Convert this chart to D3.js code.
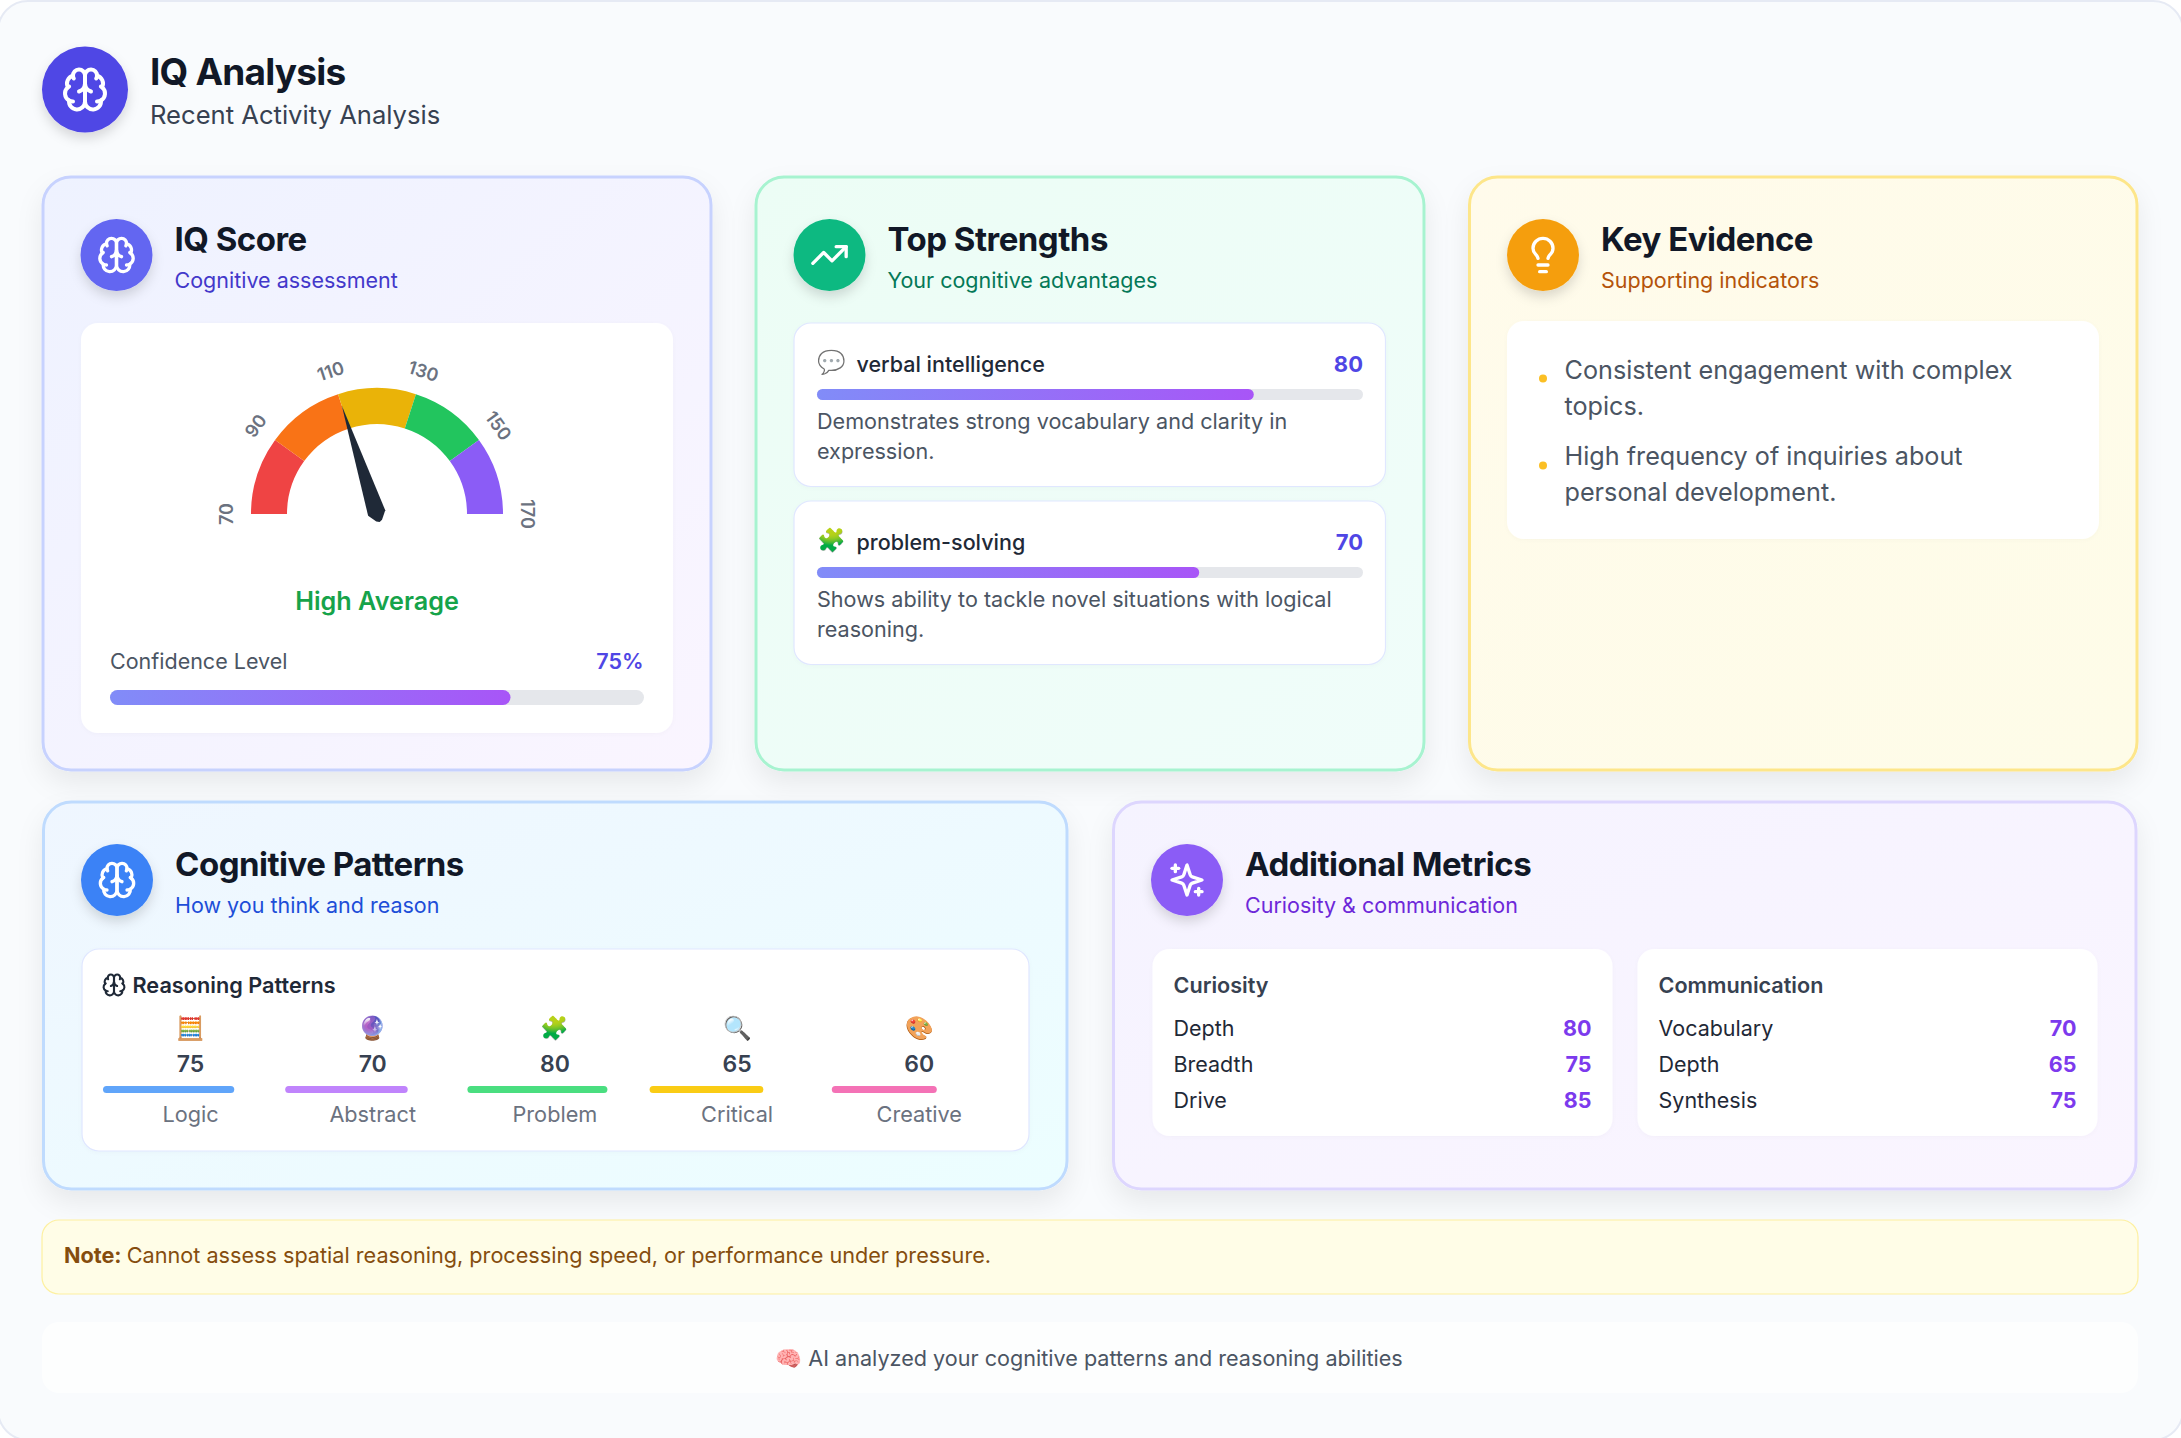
<!DOCTYPE html>
<html>
<head>
<meta charset="utf-8">
<script src="https://cdn.jsdelivr.net/npm/d3@7"></script>
<style>
html, body { margin: 0; padding: 0; background: #fff; }
svg { display: block; }
text { font-family: Inter, 'Noto Sans', sans-serif; }
</style>
</head>
<body>
<div id="container"></div>
<script>
// data
const iqScore = 110;
const iqBand = 'High Average';
const confidence = 75;
const gaugeTicks = [70, 90, 110, 130, 150, 170];
const gaugeColors = ['#ef4444', '#f97316', '#eab308', '#22c55e', '#8b5cf6'];

const strengthNames = ['verbal intelligence', 'problem-solving'];
const strengthEmoji = ['💬', '🧩'];
const strengthValues = [80, 70];
const strengthDesc = [
    ['Demonstrates strong vocabulary and clarity in', 'expression.'],
    ['Shows ability to tackle novel situations with logical', 'reasoning.']
];

const evidence = [
    ['Consistent engagement with complex', 'topics.'],
    ['High frequency of inquiries about', 'personal development.']
];

const patternNames = ['Logic', 'Abstract', 'Problem', 'Critical', 'Creative'];
const patternEmoji = ['🧮', '🔮', '🧩', '🔍', '🎨'];
const patternValues = [75, 70, 80, 65, 60];
const patternColors = ['#60a5fa', '#c084fc', '#4ade80', '#facc15', '#f472b6'];

const curiosityNames = ['Depth', 'Breadth', 'Drive'];
const curiosityValues = [80, 75, 85];
const commNames = ['Vocabulary', 'Depth', 'Synthesis'];
const commValues = [70, 65, 75];

const icons = {
    brain: ['M12 5a3 3 0 1 0-5.997.125 4 4 0 0 0-2.526 5.77 4 4 0 0 0 .556 6.588A4 4 0 1 0 12 18Z',
        'M12 5a3 3 0 1 1 5.997.125 4 4 0 0 1 2.526 5.77 4 4 0 0 1-.556 6.588A4 4 0 1 1 12 18Z',
        'M15 13a4.5 4.5 0 0 1-3-4 4.5 4.5 0 0 1-3 4',
        'M17.599 6.5a3 3 0 0 0 .399-1.375', 'M6.003 5.125A3 3 0 0 0 6.401 6.5',
        'M3.477 10.896a4 4 0 0 1 .585-.396', 'M19.938 10.5a4 4 0 0 1 .585.396',
        'M6 18a4 4 0 0 1-1.967-.516', 'M19.967 17.484A4 4 0 0 1 18 18'],
    trend: ['M22 7L13.5 15.5L8.5 10.5L2 17', 'M16 7H22V13'],
    bulb: ['M15 14c.2-1 .7-1.7 1.5-2.5 1-.9 1.5-2.2 1.5-3.5A6 6 0 0 0 6 8c0 1 .2 2.2 1.5 3.5.7.7 1.3 1.5 1.5 2.5', 'M9 18h6', 'M10 22h4'],
    sparkles: ['m12 3-1.912 5.813a2 2 0 0 1-1.275 1.275L3 12l5.813 1.912a2 2 0 0 1 1.275 1.275L12 21l1.912-5.813a2 2 0 0 1 1.275-1.275L21 12l-5.813-1.912a2 2 0 0 1-1.275-1.275L12 3Z',
        'M5 3v4', 'M19 17v4', 'M3 5h4', 'M17 19h4']
};

const W = 2181, H = 1438;
const svg = d3.select('#container').append('svg').attr('width', W).attr('height', H);
const defs = svg.append('defs');

const addGradient = (id, from, to, diagonal) => {
    const g = defs.append('linearGradient').attr('id', id)
        .attr('x1', 0).attr('y1', 0).attr('x2', 1).attr('y2', diagonal ? 1 : 0);
    g.append('stop').attr('offset', 0).attr('stop-color', from);
    g.append('stop').attr('offset', 1).attr('stop-color', to);
};
addGradient('bar', '#818cf8', '#a855f7');
addGradient('c1', '#eef2ff', '#faf5ff', true);
addGradient('c2', '#ecfdf5', '#f0fdfa', true);
addGradient('c3', '#fffbeb', '#fefce8', true);
addGradient('c4', '#eff6ff', '#ecfeff', true);
addGradient('c5', '#f5f3ff', '#faf5ff', true);

const shadow = (id, dy, blur, op) => defs.append('filter').attr('id', id)
    .attr('x', '-20%').attr('y', '-20%').attr('width', '140%').attr('height', '150%')
    .append('feDropShadow').attr('dx', 0).attr('dy', dy).attr('stdDeviation', blur)
    .attr('flood-color', '#000').attr('flood-opacity', op);
shadow('cardShadow', 12, 13, 0.07);
shadow('iconShadow', 6, 6, 0.14);
shadow('softShadow', 1, 2, 0.025);

const text = (parent, x, y, str, size, color, weight, anchor) => parent.append('text')
    .attr('x', x).attr('y', y).attr('font-size', size).attr('fill', color)
    .attr('font-weight', weight || 400).attr('text-anchor', anchor || 'start').text(str);

const drawIcon = (parent, name, cx, cy, size, color) => {
    const g = parent.append('g')
        .attr('transform', `translate(${cx - size / 2},${cy - size / 2}) scale(${size / 24})`)
        .attr('fill', 'none').attr('stroke', color).attr('stroke-width', 2)
        .attr('stroke-linecap', 'round').attr('stroke-linejoin', 'round');
    g.selectAll('path').data(icons[name]).enter().append('path').attr('d', d => d);
};

const box = (parent, x, y, w, h, border) => parent.append('rect')
    .attr('x', x).attr('y', y).attr('width', w).attr('height', h).attr('rx', 17)
    .attr('fill', '#fff').attr('stroke', border || 'none').attr('stroke-width', border ? 1.2 : 0)
    .attr('filter', 'url(#softShadow)');

// page panel
svg.append('rect').attr('x', -2).attr('y', 1).attr('width', W + 4).attr('height', H + 1).attr('rx', 30)
    .attr('fill', '#f9fbfd').attr('stroke', '#e6eaf4').attr('stroke-width', 2);

svg.append('circle').attr('cx', 85).attr('cy', 89.5).attr('r', 43).attr('fill', '#4f46e5').attr('filter', 'url(#iconShadow)');
drawIcon(svg, 'brain', 85, 89.5, 48, '#fff');
text(svg, 150, 85, 'IQ Analysis', 37, '#111827', 700).attr('letter-spacing', -0.8);
text(svg, 150, 124, 'Recent Activity Analysis', 25.6, '#374151', 400);

const card = (x, y, w, h, fill, border, iconColor, icon, title, sub, subColor) => {
    const g = svg.append('g');
    g.append('rect').attr('x', x).attr('y', y).attr('width', w).attr('height', h).attr('rx', 28)
        .attr('fill', `url(#${fill})`).attr('stroke', border).attr('stroke-width', 3).attr('filter', 'url(#cardShadow)');
    const cx = x + 73.5, cy = y + 78;
    g.append('circle').attr('cx', cx).attr('cy', cy).attr('r', 36).attr('fill', iconColor).attr('filter', 'url(#iconShadow)');
    drawIcon(g, icon, cx, cy, 40, '#fff');
    text(g, x + 131.5, y + 74, title, 33, '#111827', 700).attr('letter-spacing', -0.5);
    text(g, x + 131.5, y + 110.5, sub, 21.5, subColor, 400);
    return g;
};

const progress = (parent, x, y, w, h, value) => {
    const scale = d3.scaleLinear().domain([0, 100]).range([0, w]);
    parent.append('rect').attr('x', x).attr('y', y).attr('width', w).attr('height', h).attr('rx', h / 2).attr('fill', '#e5e7eb');
    parent.append('rect').attr('x', x).attr('y', y).attr('width', scale(value)).attr('height', h).attr('rx', h / 2).attr('fill', 'url(#bar)');
};

// IQ score card
const c1 = card(43, 177, 668, 593, 'c1', '#c7d2fe', '#6366f1', 'brain', 'IQ Score', 'Cognitive assessment', '#4338ca');
box(c1, 81, 323, 592, 410);

const gaugeX = 377, gaugeY = 514, outerR = 126, innerR = 90;
const angle = d3.scaleLinear().domain(d3.extent(gaugeTicks)).range([-90, 90]);
const gauge = c1.append('g').attr('transform', `translate(${gaugeX},${gaugeY})`);
const arc = d3.arc().innerRadius(innerR).outerRadius(outerR);
gauge.selectAll('.seg').data(gaugeColors).enter().append('path')
    .attr('d', (d, i) => arc({
        startAngle: angle(gaugeTicks[i]) * Math.PI / 180,
        endAngle: angle(gaugeTicks[i + 1]) * Math.PI / 180
    }))
    .attr('fill', d => d);
gauge.selectAll('.tick').data(gaugeTicks).enter().append('text')
    .attr('transform', d => `rotate(${angle(d)}) translate(0,-150)`)
    .attr('text-anchor', 'middle').attr('dy', '0.35em')
    .attr('font-size', 18).attr('font-weight', 600).attr('fill', '#6b7280')
    .text(d => d);
gauge.append('path')
    .attr('d', 'M0 -114L9 -1L3 7L0 8.5L-3 7L-9 -1Z')
    .attr('transform', `rotate(${angle(iqScore)})`)
    .attr('fill', '#1f2937');

text(c1, 377, 609.5, iqBand, 25.2, '#16a34a', 600, 'middle');
text(c1, 110, 669, 'Confidence Level', 21.5, '#4b5563', 400);
text(c1, 643.5, 669, confidence + '%', 21.5, '#4f46e5', 600, 'end');
progress(c1, 110, 690, 534, 15, confidence);

// top strengths card
const c2 = card(756, 177, 668, 593, 'c2', '#a7f3d0', '#10b981', 'trend', 'Top Strengths', 'Your cognitive advantages', '#047857');
strengthNames.forEach((name, i) => {
    const y0 = 323 + i * 178;
    box(c2, 794, y0, 591.5, 163.5, '#e0e7ff');
    text(c2, 817, y0 + 47, strengthEmoji[i], 23, '#000').attr('opacity', i === 0 ? 0.55 : 1);
    text(c2, 856.5, y0 + 48.5, name, 21.5, '#1f2937', 500);
    text(c2, 1363, y0 + 48.5, strengthValues[i], 22, '#4f46e5', 700, 'end');
    progress(c2, 817, y0 + 66, 546, 11, strengthValues[i]);
    strengthDesc[i].forEach((line, j) => text(c2, 817, y0 + 106 + j * 29.5, line, 21.6, '#4b5563', 400));
});

// key evidence card
const c3 = card(1469.5, 177, 667.5, 593, 'c3', '#fde68a', '#f59e0b', 'bulb', 'Key Evidence', 'Supporting indicators', '#b45309');
box(c3, 1507, 321, 592, 218);
evidence.forEach((lines, i) => {
    const y0 = 378.5 + i * 86;
    c3.append('circle').attr('cx', 1543).attr('cy', y0 + i).attr('r', 4).attr('fill', '#fbbf24');
    lines.forEach((line, j) => text(c3, 1564.5, y0 + j * 36.3, line, 25.2, '#4b5563', 400));
});

// cognitive patterns card
const c4 = card(43.5, 802, 1023.5, 387, 'c4', '#bfdbfe', '#3b82f6', 'brain', 'Cognitive Patterns', 'How you think and reason', '#1d4ed8');
box(c4, 82, 949, 947, 202, '#e0e7ff');
drawIcon(c4, 'brain', 114, 985, 25, '#1f2937');
text(c4, 132.5, 992.5, 'Reasoning Patterns', 21.7, '#1f2937', 600);

const patternX = d3.scaleBand().domain(patternNames).range([103, 103 + 182.2 * 5]);
const patternW = d3.scaleLinear().domain([0, 100]).range([0, 175]);
patternNames.forEach((name, i) => {
    const x0 = patternX(name), xc = x0 + 87.5;
    text(c4, xc, 1036, patternEmoji[i], 23, '#000', 400, 'middle');
    text(c4, xc, 1071.5, patternValues[i], 23, '#374151', 600, 'middle');
    c4.append('rect').attr('x', x0).attr('y', 1086).attr('width', patternW(patternValues[i])).attr('height', 7).attr('rx', 3.5).attr('fill', patternColors[i]);
    text(c4, xc, 1121.5, name, 21.7, '#6b7280', 400, 'middle');
});

// additional metrics card
const c5 = card(1113.5, 802, 1022.5, 387, 'c5', '#ddd6fe', '#8b5cf6', 'sparkles', 'Additional Metrics', 'Curiosity & communication', '#6d28d9');
const metricBox = (x, title, names, values) => {
    box(c5, x, 949, 460, 187);
    text(c5, x + 21, 992.5, title, 21.6, '#374151', 600);
    names.forEach((name, i) => {
        const y = 1035.7 + i * 36;
        text(c5, x + 21, y, name, 21.5, '#1f2937', 400);
        text(c5, x + 439, y, values[i], 21.5, '#7c3aed', 700, 'end');
    });
};
metricBox(1152.5, 'Curiosity', curiosityNames, curiosityValues);
metricBox(1637.5, 'Communication', commNames, commValues);

// note and footer
svg.append('rect').attr('x', 42).attr('y', 1220).attr('width', 2096).attr('height', 74).attr('rx', 17)
    .attr('fill', '#fffde7').attr('stroke', '#fdf0a0').attr('stroke-width', 1.2);
const note = text(svg, 64, 1263, '', 21.65, '#854d0e', 400);
note.append('tspan').attr('font-weight', 700).text('Note: ');
note.append('tspan').text('Cannot assess spatial reasoning, processing speed, or performance under pressure.');

svg.append('rect').attr('x', 42).attr('y', 1322).attr('width', 2096).attr('height', 71).attr('rx', 17).attr('fill', '#fdfefe');
text(svg, 1089, 1365.5, '🧠 AI analyzed your cognitive patterns and reasoning abilities', 21.6, '#4b5563', 400, 'middle');
</script>
</body>
</html>
